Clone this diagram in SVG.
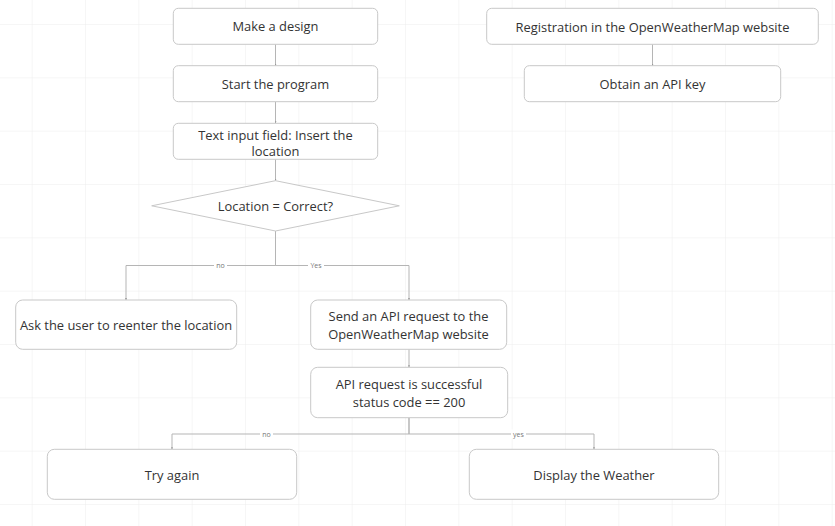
<svg xmlns="http://www.w3.org/2000/svg" width="835" height="526" viewBox="0 0 835 526">
<defs>
<pattern id="grid" x="31.7" y="24" width="53.33" height="53.33" patternUnits="userSpaceOnUse">
<path d="M0 0V53.33M0 0H53.33" fill="none" stroke="#ededed" stroke-width="1"/>
</pattern>
<marker id="arr" viewBox="0 0 6 6" refX="6" refY="3" markerWidth="2" markerHeight="2" orient="auto">
<path d="M0 0L6 3L0 6z" fill="#999"/>
</marker>
</defs>
<style>
.box{fill:#fff;stroke:#c8c8c8;stroke-width:1}
.t{font-family:"Open Sans","Noto Sans",sans-serif;font-size:12.9px;fill:#333;text-anchor:middle;dominant-baseline:central}
.c{fill:none;stroke:#b5b5b5;stroke-width:1;marker-end:url(#arr)}
.lbl{font-family:"Open Sans","Noto Sans",sans-serif;font-size:7px;fill:#777;text-anchor:middle;dominant-baseline:central}
.lb{fill:#fff}
</style>
<rect width="835" height="526" fill="#fff"/>
<rect width="835" height="526" fill="url(#grid)"/>
<g id="connectors">
<path class="c" d="M275.5 44.3V65.7"/>
<path class="c" d="M275.5 101.7V123.3"/>
<path class="c" d="M275.5 159.3V180.7"/>
<path class="c" d="M275.5 231V265.5H126V300"/>
<path class="c" d="M275.5 231V265.5H409V300"/>
<path class="c" d="M409 349.3V367.3"/>
<path class="c" d="M409 417.7V434H172V449.3"/>
<path class="c" d="M409 417.7V434H594V449.3"/>
<path class="c" d="M652.5 44.3V65.7"/>
<rect class="lb" x="214" y="261" width="13" height="9"/>
<text class="lbl" x="220.5" y="265.5">no</text>
<rect class="lb" x="308" y="261" width="16" height="9"/>
<text class="lbl" x="316" y="265.5">Yes</text>
<rect class="lb" x="260" y="429.5" width="13" height="9"/>
<text class="lbl" x="266.5" y="434">no</text>
<rect class="lb" x="511" y="429.5" width="15" height="9"/>
<text class="lbl" x="518.5" y="434">yes</text>
</g>
<g id="n1"><rect class="box" x="173.3" y="8.3" width="204.4" height="36" rx="5"/><text class="t" x="275.5" y="26.3">Make a design</text></g>
<g id="n2"><rect class="box" x="173.3" y="65.7" width="204.4" height="36" rx="5"/><text class="t" x="275.5" y="84">Start the program</text></g>
<g id="n3"><rect class="box" x="173.3" y="123.3" width="204.4" height="36" rx="5"/><text class="t" x="275.5" y="134.5">Text input field: Insert the</text><text class="t" x="275.5" y="151">location</text></g>
<g id="n4"><path class="box" d="M275.5 180.7L399.3 205.8L275.5 231L151.7 205.8Z"/><text class="t" x="275.5" y="206">Location = Correct?</text></g>
<g id="n5"><rect class="box" x="486.7" y="8.3" width="331.6" height="36" rx="5"/><text class="t" x="652.5" y="27">Registration in the OpenWeatherMap website</text></g>
<g id="n6"><rect class="box" x="524.3" y="65.7" width="256.4" height="36" rx="5"/><text class="t" x="652.5" y="84">Obtain an API key</text></g>
<g id="n7"><rect class="box" x="15.7" y="300" width="221" height="49.3" rx="7"/><text class="t" x="126" y="325">Ask the user to reenter the location</text></g>
<g id="n8"><rect class="box" x="310.7" y="300" width="196" height="49.3" rx="7"/><text class="t" x="408.5" y="316">Send an API request to the</text><text class="t" x="408.5" y="333.5">OpenWeatherMap website</text></g>
<g id="n9"><rect class="box" x="310.7" y="367.3" width="197" height="50.4" rx="7"/><text class="t" x="409" y="384">API request is successful</text><text class="t" x="409" y="401.5">status code == 200</text></g>
<g id="n10"><rect class="box" x="47.3" y="449.3" width="249.4" height="50" rx="7"/><text class="t" x="172" y="475">Try again</text></g>
<g id="n11"><rect class="box" x="469.3" y="449.3" width="249.4" height="50" rx="7"/><text class="t" x="594" y="475">Display the Weather</text></g>
</svg>
